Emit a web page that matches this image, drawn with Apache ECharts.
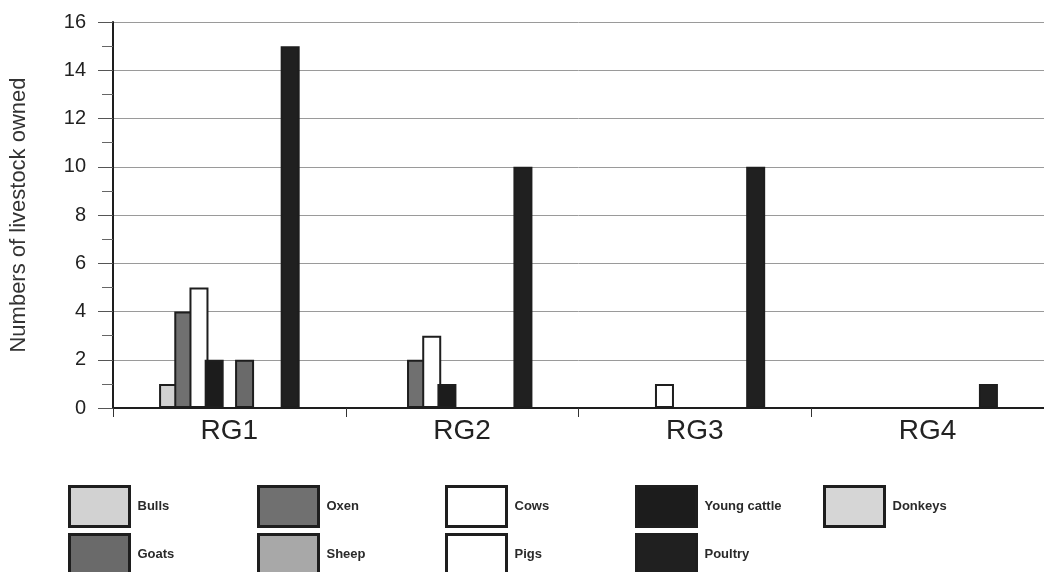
<!DOCTYPE html>
<html>
<head>
<meta charset="utf-8">
<script src="https://cdn.jsdelivr.net/npm/echarts@6/dist/echarts.min.js"></script>
<style>
  html, body { margin: 0; padding: 0; background: #ffffff; }
  #chart { width: 1044px; height: 572px; }
</style>
</head>
<body>
<div id="chart"></div>
<script>
// Livestock owned per respondent group
const categories = ['RG1', 'RG2', 'RG3', 'RG4'];

const bulls       = [1, 0, 0, 0];
const oxen        = [4, 2, 0, 0];
const cows        = [5, 3, 1, 0];
const youngCattle = [2, 1, 0, 0];
const donkeys     = [0, 0, 0, 0];
const goats       = [2, 0, 0, 0];
const sheep       = [0, 0, 0, 0];
const pigs        = [0, 0, 0, 0];
const poultry     = [15, 10, 10, 1];

const yTicks = [0, 2, 4, 6, 8, 10, 12, 14, 16];

const seriesDefs = [
  { name: 'Bulls',        data: bulls,       color: '#d2d2d2' },
  { name: 'Oxen',         data: oxen,        color: '#707070' },
  { name: 'Cows',         data: cows,        color: '#ffffff' },
  { name: 'Young cattle', data: youngCattle, color: '#1c1c1c' },
  { name: 'Donkeys',      data: donkeys,     color: '#d6d6d6' },
  { name: 'Goats',        data: goats,       color: '#6a6a6a' },
  { name: 'Sheep',        data: sheep,       color: '#a8a8a8' },
  { name: 'Pigs',         data: pigs,        color: '#ffffff' },
  { name: 'Poultry',      data: poultry,     color: '#202020' }
];

const FONT = '"Liberation Sans", Arial, sans-serif';

const series = seriesDefs.map(s => ({
  name: s.name,
  type: 'bar',
  data: s.data,
  barWidth: 19,
  barGap: '-20%',
  itemStyle: { color: s.color, borderColor: '#1e1e1e', borderWidth: 2 },
  emphasis: { disabled: true }
}));

// Legend grid: five columns, two rows; one legend block per entry keeps columns aligned
const legendSlots = [
  { name: 'Bulls',        left: 68,  top: 485 },
  { name: 'Oxen',         left: 257, top: 485 },
  { name: 'Cows',         left: 445, top: 485 },
  { name: 'Young cattle', left: 635, top: 485 },
  { name: 'Donkeys',      left: 823, top: 485 },
  { name: 'Goats',        left: 68,  top: 533 },
  { name: 'Sheep',        left: 257, top: 533 },
  { name: 'Pigs',         left: 445, top: 533 },
  { name: 'Poultry',      left: 635, top: 533 }
];

const legends = legendSlots.map(slot => ({
  left: slot.left,
  top: slot.top,
  padding: 0,
  data: [slot.name],
  icon: 'rect',
  itemWidth: 60,
  itemHeight: 40,
  selectedMode: false,
  itemStyle: { borderColor: '#1e1e1e', borderWidth: 3 },
  textStyle: { fontFamily: FONT, fontSize: 13, fontWeight: 'bold', color: '#2a2a2a', padding: [0, 0, 0, 3] }
}));

const chart = echarts.init(document.getElementById('chart'), null, { renderer: 'canvas' });

chart.setOption({
  animation: false,
  backgroundColor: '#ffffff',
  grid: { left: 110, top: 22, width: 944, height: 386, containLabel: false },
  legend: legends,
  xAxis: {
    type: 'category',
    data: categories,
    axisLine: { lineStyle: { color: '#1e1e1e', width: 2 } },
    axisTick: { show: true, length: 9, lineStyle: { color: '#333', width: 1 } },
    axisLabel: { fontFamily: FONT, fontSize: 28, color: '#222', margin: 9 },
    splitLine: { show: false }
  },
  yAxis: {
    type: 'value',
    min: 0,
    max: 16,
    interval: 2,
    name: 'Numbers of livestock owned',
    nameLocation: 'middle',
    nameGap: 83,
    nameTextStyle: { fontFamily: FONT, fontSize: 22, color: '#333' },
    axisLine: { show: true, lineStyle: { color: '#1e1e1e', width: 2 } },
    axisTick: { show: true, length: 15, lineStyle: { color: '#555', width: 1 } },
    minorTick: { show: true, splitNumber: 2, length: 11, lineStyle: { color: '#666', width: 1 } },
    axisLabel: {
      fontFamily: FONT, fontSize: 20, color: '#222', margin: 27,
      formatter: v => (yTicks.includes(v) ? String(v) : '')
    },
    splitLine: { show: true, lineStyle: { color: '#9a9a9a', width: 1 } }
  },
  series: series
});
</script>
</body>
</html>
